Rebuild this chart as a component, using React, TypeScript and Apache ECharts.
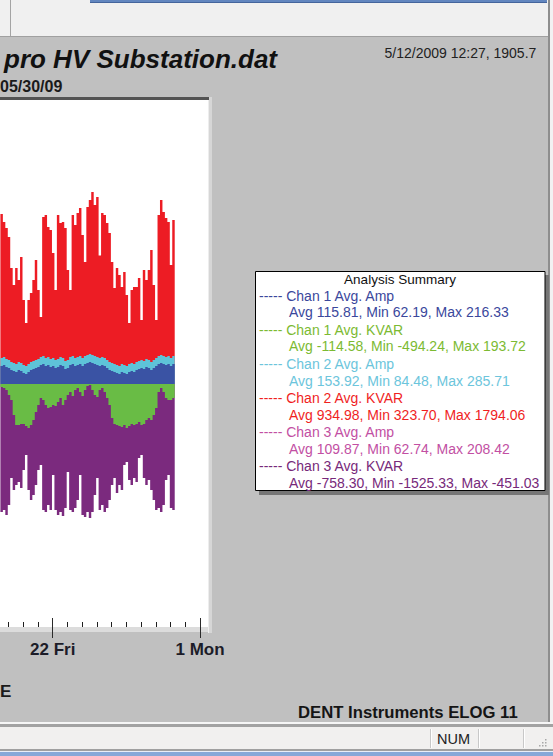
import React, { useEffect, useRef } from "react";
import * as echarts from "echarts";

// ---------- data ----------
const START_DAY = 18.45; // May 18, ~11:00
const STEP_DAY = 1 / 6; // 4-hour samples
const X_MIN_DAY = 12;
const X_MAX_DAY = 32.611;

// Chan 2 Avg. KVAR (red)
const chan2Kvar = [
  1588, 1514, 1457, 1373, 1084, 925, 1084, 972, 1187, 785, 570, 785,
  850, 972, 1159, 878, 626, 1560, 1579, 1467, 1439, 1224, 878, 1579,
  1504, 1514, 1457, 1065, 878, 1579, 1486, 1598, 1644, 1392, 1140, 1654,
  1719, 1794, 1672, 1747, 1200, 1598, 1579, 1504, 1411, 1140, 897, 1084,
  1018, 906, 1046, 832, 570, 878, 906, 906, 990, 598, 1065, 972,
  1065, 1252, 925, 598, 1579, 1719, 1607, 1551, 1514, 1112, 1532, 1532,
];
// Chan 2 Avg. Amp (cyan)
const chan2Amp = [
  243, 252, 234, 224, 206, 196, 187, 206, 196, 178, 168, 187,
  206, 215, 224, 234, 252, 262, 243, 252, 234, 243, 224, 234,
  252, 243, 215, 224, 252, 262, 243, 252, 262, 243, 262, 271,
  280, 271, 262, 252, 243, 252, 243, 224, 206, 196, 187, 178,
  168, 187, 178, 168, 187, 196, 187, 206, 215, 224, 215, 234,
  224, 206, 224, 243, 262, 271, 262, 252, 262, 243, 262, 252,
];
// Chan 1 Avg. Amp (blue)
const chan1Amp = [
  168, 178, 159, 150, 131, 121, 112, 131, 121, 103, 94, 112,
  131, 140, 150, 159, 178, 187, 168, 178, 159, 168, 150, 159,
  178, 168, 140, 150, 178, 187, 168, 178, 187, 168, 187, 196,
  206, 196, 187, 178, 168, 178, 168, 150, 131, 121, 112, 103,
  94, 112, 103, 94, 112, 121, 112, 131, 140, 150, 140, 159,
  150, 131, 150, 168, 187, 196, 187, 178, 187, 168, 187, 178,
];
// Chan 3 Avg. KVAR (purple)
const chan3Kvar = [
  -1196, -1177, -1224, -1131, -878, -990, -944, -916, -972, -804, -663, -990,
  -1084, -1037, -944, -804, -757, -1177, -1196, -1131, -1177, -850, -1177, -1224,
  -1196, -1233, -1159, -822, -1177, -1196, -1159, -1084, -850, -1224, -1243, -1196,
  -1252, -1196, -1037, -878, -1177, -1131, -1196, -1159, -1084, -944, -878, -1018,
  -944, -990, -757, -729, -897, -944, -878, -916, -691, -663, -878, -944,
  -897, -990, -1084, -1177, -1159, -1196, -1131, -897, -850, -1159, -1177, -1131,
];
// Chan 1 Avg. KVAR (green)
const chan1Kvar = [
  -28, -37, -56, -103, -149, -290, -383, -383, -374, -374, -392, -411,
  -383, -336, -262, -196, -131, -149, -196, -224, -215, -196, -206, -168,
  -131, -196, -149, -103, -75, -112, -56, -37, -75, -112, -56, -19,
  -9, -56, -103, -121, -56, -37, -75, -131, -196, -318, -374, -383,
  -392, -402, -383, -411, -392, -374, -383, -374, -355, -383, -374, -336,
  -318, -336, -290, -224, -75, -37, -75, -131, -149, -149, -131, -112,
];

const tickDays = [22, 32];
const tickLabels = ["22 Fri", "1 Mon"];

const summaryTitle = "Analysis Summary";
const summaryNames = [
  "Chan 1 Avg. Amp",
  "Chan 1 Avg. KVAR",
  "Chan 2 Avg. Amp",
  "Chan 2 Avg. KVAR",
  "Chan 3 Avg. Amp",
  "Chan 3 Avg. KVAR",
];
const summaryStats = [
  "Avg 115.81, Min 62.19, Max 216.33",
  "Avg -114.58, Min -494.24, Max 193.72",
  "Avg 153.92, Min 84.48, Max 285.71",
  "Avg 934.98, Min 323.70, Max 1794.06",
  "Avg 109.87, Min 62.74, Max 208.42",
  "Avg -758.30, Min -1525.33, Max -451.03",
];
const summaryColors = ["#3a479c", "#7cba32", "#6cc5dc", "#f01f1f", "#c24fa3", "#77297a"];

const titleText = "pro HV Substation.dat";
const subTitleText = "05/30/09";
const cursorText = "5/12/2009 12:27, 1905.7";
const footerText = "DENT Instruments ELOG 11";
const axisNameTail = "E";
const statusText = "NUM";

// ---------- styling ----------
const OX = 100; // chart canvas extends this far left of the visible page
const FONT = '"Liberation Sans", Arial, Helvetica, sans-serif';
const COL = {
  red: "#ed1c24",
  cyan: "#5ec3d8",
  blue: "#3a53a4",
  green: "#69bc45",
  purple: "#7b2a7e",
};

const toPairs = (vals: number[]) => vals.map((v, i) => [START_DAY + i * STEP_DAY, v]);

const areaSeries = (name: string, vals: number[], color: string) => ({
  type: "line",
  name,
  data: toPairs(vals),
  step: "end",
  symbol: "none",
  showSymbol: false,
  silent: true,
  lineStyle: { width: 0, color },
  itemStyle: { color },
  areaStyle: { color, opacity: 1 },
});

const rect = (x: number, y: number, w: number, h: number, fill: string, z = -10, extra: any = {}) => ({
  type: "rect",
  silent: true,
  z,
  shape: { x: x + OX, y, width: w, height: h },
  style: { fill, ...extra },
});

const text = (
  t: string,
  x: number,
  y: number,
  size: number,
  color: string,
  weight = "normal",
  fstyle = "normal",
  align = "left"
) => ({
  type: "text",
  silent: true,
  z: 40,
  x: x + OX,
  y,
  style: {
    text: t,
    fill: color,
    fontSize: size,
    fontFamily: FONT,
    fontWeight: weight,
    fontStyle: fstyle,
    align,
    textAlign: align,
    verticalAlign: "middle",
    textVerticalAlign: "middle",
  },
});

const App = () => {
  const ref = useRef<HTMLDivElement>(null);
  useEffect(() => {
    if (!ref.current) return;
    const chart = echarts.init(ref.current, null, { renderer: "svg" });

    const graphics: any[] = [];
    // window chrome
    graphics.push(rect(0, 0, 553, 37, "#f0f0f0", -20));
    graphics.push(rect(10, 0, 1, 37, "#a4a4a4", -19));
    graphics.push(rect(90, 0, 457, 3, "#6286bf", -19));
    graphics.push(rect(90, 2, 457, 1, "#44659c", -19));
    graphics.push(rect(0, 37, 549, 686, "#c0c0c0", -20));
    graphics.push(rect(0, 36, 549, 1, "#a0a0a0", -19));
    graphics.push(rect(548, 0, 2, 724, "#8e8e8e", -19));
    graphics.push(rect(550, 0, 3, 724, "#f2f2f2", -19));
    // bottom status bar
    graphics.push(rect(0, 722, 553, 2, "#f6f6f6", -19));
    graphics.push(rect(0, 724, 553, 3, "#a2a2a2", -19));
    graphics.push(rect(0, 727, 553, 22, "#f1f0ef", -19));
    graphics.push(rect(0, 749, 553, 2, "#a0a0a0", -19));
    graphics.push(rect(0, 751, 553, 1, "#e8eef8", -19));
    graphics.push(rect(0, 752, 553, 4, "#86a8d8", -19));
    [430, 478, 523].forEach((sx) => {
      graphics.push(rect(sx, 729, 1, 19, "#c8c8c8", -18));
      graphics.push(rect(sx + 1, 729, 1, 19, "#ffffff", -18));
    });
    [
      [545, 745], [542, 745], [539, 745], [545, 742], [542, 742], [545, 739],
    ].forEach(([dx, dy]) => graphics.push(rect(dx, dy, 1.5, 1.5, "#a8a8a8", -17)));

    // plot frame
    graphics.push(rect(-OX, 100, 208 + OX, 527, "#ffffff", -15));
    graphics.push(rect(-OX, 627, 212 + OX, 5, "#dcdcdc", -14));
    graphics.push(rect(208, 97, 1, 536, "#ededed", 20));
    graphics.push(rect(209, 97, 3, 536, "#d6d6d6", 20));
    graphics.push(rect(206, 633, 8, 8, "#c0c0c0", 20));
    graphics.push(rect(-OX, 97, 209 + OX, 3, "#535353", 21));

    // analysis summary box
    graphics.push(rect(259, 275, 290, 220, "#767676", 30));
    graphics.push(rect(255.5, 271.5, 289.5, 219, "#ffffff", 31, { stroke: "#000000", lineWidth: 1 }));
    graphics.push(text(summaryTitle, 400, 279, 13.5, "#111111", "normal", "normal", "center"));
    summaryNames.forEach((n, k) => {
      graphics.push(text("----- " + n, 259, 295.7 + k * 34.1, 14, summaryColors[k]));
      graphics.push(text(summaryStats[k], 289, 312.3 + k * 34.1, 14, summaryColors[k]));
    });

    // titles and footers
    graphics.push(text(titleText, 4, 58.5, 26, "#111111", "bold", "italic"));
    graphics.push(text(subTitleText, 0, 86.4, 16, "#1a1a1a", "bold"));
    graphics.push(text(cursorText, 384.5, 53, 14, "#222222"));
    graphics.push(text(axisNameTail, 0, 691.5, 17, "#1a1a1a", "bold"));
    graphics.push(text(footerText, 298, 712.5, 16.7, "#151515", "bold"));
    graphics.push(text(statusText, 437, 739, 14.5, "#222222"));

    const option: any = {
      animation: false,
      grid: { left: OX - 94.6, top: 100, width: 303.6, height: 527, show: false, containLabel: false },
      xAxis: [
        {
          type: "value",
          position: "bottom",
          min: X_MIN_DAY,
          max: X_MAX_DAY,
          interval: 1,
          axisLine: { show: false, onZero: false },
          axisTick: { show: true, inside: true, length: 5, lineStyle: { color: "#1e1e1e", width: 1 } },
          axisLabel: { show: false },
          splitLine: { show: false },
        },
        {
          type: "value",
          position: "bottom",
          offset: -9,
          min: X_MIN_DAY,
          max: X_MAX_DAY,
          interval: 10,
          axisLine: { show: false, onZero: false },
          axisTick: { show: true, inside: false, length: 20, lineStyle: { color: "#2a2a2a", width: 1 } },
          axisLabel: {
            show: true,
            margin: 23,
            fontSize: 17,
            fontWeight: "bold",
            fontFamily: FONT,
            color: "#1c1c28",
            showMinLabel: false,
            showMaxLabel: false,
            formatter: (v: number) => {
              const idx = tickDays.findIndex((d) => Math.abs(d - v) < 1e-6);
              return idx >= 0 ? tickLabels[idx] : "";
            },
          },
          splitLine: { show: false },
        },
      ],
      yAxis: { type: "value", min: -2270, max: 2653, show: false, splitLine: { show: false } },
      series: [
        areaSeries("Chan 2 Avg. KVAR", chan2Kvar, COL.red),
        areaSeries("Chan 2 Avg. Amp", chan2Amp, COL.cyan),
        areaSeries("Chan 1 Avg. Amp", chan1Amp, COL.blue),
        areaSeries("Chan 3 Avg. KVAR", chan3Kvar, COL.purple),
        areaSeries("Chan 1 Avg. KVAR", chan1Kvar, COL.green),
      ],
      graphic: { elements: graphics },
    };
    chart.setOption(option);
    return () => chart.dispose();
  }, []);
  return (
    <div
      ref={ref}
      style={{ position: "fixed", left: -OX, top: 0, width: 553 + OX, height: 756, background: "#c0c0c0" }}
    />
  );
};

export default App;
